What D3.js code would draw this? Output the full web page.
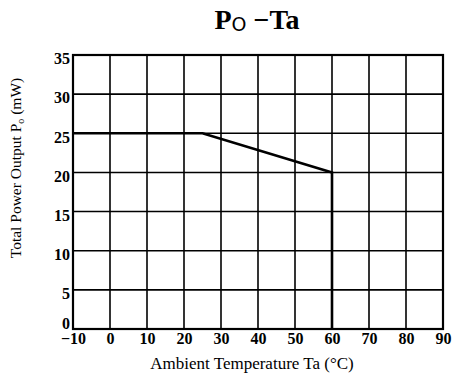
<!DOCTYPE html>
<html><head><meta charset="utf-8">
<script src="https://cdn.jsdelivr.net/npm/d3@7"></script>
<style>body{margin:0;background:#fff}</style>
</head><body>
<svg id="c" width="452" height="376"></svg>
<script>
const xTicks = [-10,0,10,20,30,40,50,60,70,80,90];
const yTicks = [0,5,10,15,20,25,30,35];
const tempA = [-10,25,60,60];
const powerP = [25,25,20,0];

const svg = d3.select("#c");
const L=73,R=443,T=55,B=329;
const x = d3.scaleLinear().domain([-10,90]).range([L,R]);
const y = d3.scaleLinear().domain([0,35]).range([B,T]);
const font = "Liberation Serif, Times New Roman, serif";

// grid
svg.append("g").selectAll("line").data(xTicks.slice(1,-1)).join("line")
  .attr("x1",d=>x(d)).attr("x2",d=>x(d)).attr("y1",T).attr("y2",B)
  .attr("stroke","#000").attr("stroke-width",1.6);
svg.append("g").selectAll("line").data(yTicks.slice(1,-1)).join("line")
  .attr("y1",d=>y(d)).attr("y2",d=>y(d)).attr("x1",L).attr("x2",R)
  .attr("stroke","#000").attr("stroke-width",1.6);
// border
svg.append("rect").attr("x",L).attr("y",T).attr("width",R-L).attr("height",B-T)
  .attr("fill","none").attr("stroke","#000").attr("stroke-width",2.2);

// axes labels via d3 axes
const ax = svg.append("g").attr("transform",`translate(0,${B})`)
  .call(d3.axisBottom(x).tickValues(xTicks).tickSize(0).tickPadding(4)
    .tickFormat(d=>d<0?"\u2212"+Math.abs(d):d));
ax.select(".domain").remove();
ax.selectAll("text").attr("font-family",font).attr("font-size",16).attr("font-weight","bold").attr("fill","#000");
const ay = svg.append("g").attr("transform",`translate(${L},0)`)
  .call(d3.axisLeft(y).tickValues(yTicks).tickSize(0).tickPadding(3));
ay.select(".domain").remove();
ay.selectAll("text").attr("font-family",font).attr("font-size",16).attr("font-weight","bold").attr("fill","#000")
  .attr("dy",d=>d===0?"-0.05em":"0.55em");

// data line
const pts = tempA.map((t,i)=>[t,powerP[i]]);
svg.append("path").attr("d",d3.line().x(d=>x(d[0])).y(d=>y(d[1]))(pts))
  .attr("fill","none").attr("stroke","#000").attr("stroke-width",2.6);

// title
const t = svg.append("text").attr("x",257).attr("y",29).attr("text-anchor","middle")
  .attr("font-family",font).attr("font-size",28).attr("font-weight","bold").attr("fill","#000");
t.append("tspan").text("P");
t.append("tspan").attr("font-size",19).attr("font-weight","normal").attr("dy",2).attr("font-family","DejaVu Sans, sans-serif").text("O");
t.append("tspan").attr("dy",-2).text(" \u2212Ta");

// x label
svg.append("text").attr("x",252).attr("y",369).attr("text-anchor","middle")
  .attr("font-family",font).attr("font-size",17).attr("fill","#000")
  .text("Ambient Temperature Ta (\u00B0C)");
// y label
const yl = svg.append("text").attr("transform","translate(21,168) rotate(-90)").attr("text-anchor","middle")
  .attr("font-family",font).attr("font-size",15.5).attr("fill","#000");
yl.append("tspan").text("Total Power Output P");
yl.append("tspan").attr("font-size",10).attr("dy",3).text("o");
yl.append("tspan").attr("dy",-3).text(" (mW)");
</script>
</body></html>
